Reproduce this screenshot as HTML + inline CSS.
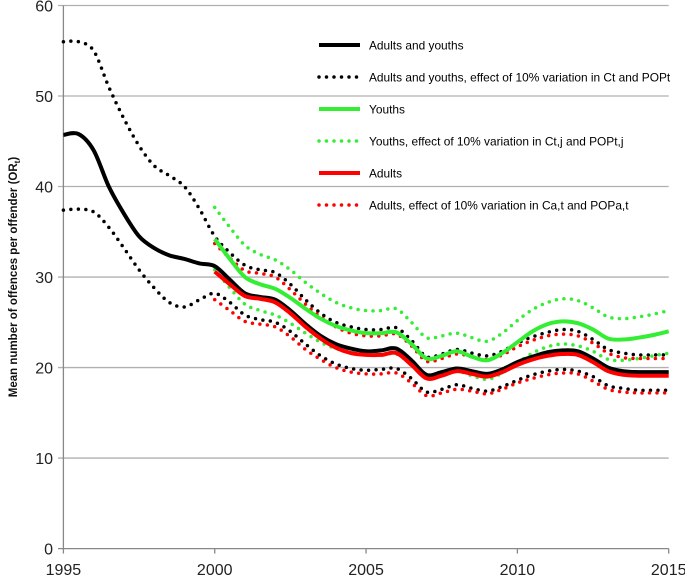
<!DOCTYPE html>
<html><head><meta charset="utf-8"><style>
html,body{margin:0;padding:0;background:#fff;}
svg{display:block;font-family:"Liberation Sans",sans-serif;}
</style></head><body>
<svg id="chart" width="685" height="577" viewBox="0 0 685 577"></svg>
<script>
const years = [1995,1995.5,1996,1996.5,1997,1997.5,1998,1998.5,1999,1999.5,2000,2000.5,2001,2001.5,2002,2002.5,2003,2003.5,2004,2004.5,2005,2005.5,2006,2006.5,2007,2007.5,2008,2008.5,2009,2009.5,2010,2010.5,2011,2011.5,2012,2012.5,2013,2013.5,2014,2014.5,2015];
const allSolid = [45.7,45.8,44,40,37,34.5,33.2,32.4,32,31.5,31.2,29.7,28.2,27.8,27.5,26.3,24.8,23.5,22.6,22.1,21.8,21.9,22.1,20.8,19.2,19.5,19.9,19.6,19.3,19.8,20.6,21.2,21.7,21.9,21.8,21.0,20.0,19.6,19.5,19.5,19.5];
const allUpper = [56,56,55,51,47.5,44.5,42.3,41.2,40,37.5,34.5,32.7,31.3,30.8,30.5,29.2,27.5,26,25,24.5,24.2,24.2,24.4,23,21.2,21.5,22,21.6,21.3,21.8,22.7,23.4,23.9,24.2,24,23.1,22,21.6,21.4,21.4,21.4];
const allLower = [37.4,37.5,37.2,35.5,33.2,30.8,28.8,27.2,26.7,27.5,28.2,27.2,25.8,25.3,25,24,22.6,21.3,20.4,19.9,19.7,19.8,19.9,18.8,17.3,17.6,18.1,17.7,17.4,17.9,18.6,19.2,19.6,19.8,19.6,19,18,17.7,17.5,17.5,17.5];
const youthSolid = [34.2,32,30,29.2,28.7,27.7,26.5,25.4,24.6,24.1,23.8,23.8,23.9,22.6,21,21.3,21.8,21.2,20.8,21.6,22.8,24,24.8,25.1,24.9,24.2,23.2,23.1,23.3,23.6,24];
const youthUpper = [37.7,35.5,33.5,32.5,31.9,30.8,29.4,28.2,27.2,26.6,26.3,26.3,26.5,25,23.3,23.5,23.8,23.3,22.9,23.8,25.2,26.4,27.2,27.6,27.4,26.6,25.6,25.4,25.6,25.9,26.3];
const youthLower = [30.8,28.8,27.0,26.3,25.8,24.9,23.8,22.8,22.1,21.7,21.4,21.4,21.5,20.3,18.9,19.2,19.6,19.1,18.7,19.4,20.5,21.6,22.3,22.6,22.4,21.8,20.9,20.8,21,21.3,21.6];
const adultSolid = [30.6,29.2,27.9,27.6,27.2,26.0,24.5,23.2,22.2,21.6,21.4,21.4,21.6,20.3,18.8,19.1,19.6,19.3,19.0,19.5,20.3,20.9,21.3,21.5,21.4,20.6,19.6,19.2,19.1,19.1,19.1];
const adultUpper = [33.7,32.1,30.7,30.4,30.0,28.6,27.0,25.6,24.5,23.8,23.5,23.5,23.7,22.4,20.7,21.0,21.5,21.2,20.9,21.4,22.3,23.0,23.5,23.7,23.5,22.7,21.6,21.1,21.0,21.0,21.0];
const adultLower = [27.5,26.3,25.1,24.8,24.5,23.4,22.0,20.9,20.0,19.5,19.3,19.3,19.4,18.3,16.9,17.2,17.6,17.4,17.1,17.6,18.3,18.8,19.2,19.4,19.3,18.5,17.6,17.3,17.2,17.2,17.2];
const yTicks = [0,10,20,30,40,50,60];
const xTicks = [1995,2000,2005,2010,2015];
const legendLabels = ["Adults and youths","Adults and youths, effect of 10% variation in Ct and POPt","Youths","Youths, effect of 10% variation in Ct,j and POPt,j","Adults","Adults, effect of 10% variation in Ca,t and POPa,t"];

const svg = document.getElementById('chart');
const NS = 'http://www.w3.org/2000/svg';
const X0=63.4, X1=668.7, Y0=548.6, Y1=5.5;
const xs = v => X0 + (v-1995)/20*(X1-X0);
const ys = v => Y0 - v/60*(Y0-Y1);
function mk(tag, attrs, parent){const e=document.createElementNS(NS,tag);for(const k in attrs)e.setAttribute(k,attrs[k]);(parent||svg).appendChild(e);return e;}

yTicks.forEach(t=>{
  const g = mk('line',{x1:58,x2:X1,y1:ys(t),y2:ys(t),stroke:t===0?'#888':'#b0b0b0','stroke-width':1.3});
  
  
  const tx = mk('text',{x:53,y:ys(t)+6,'text-anchor':'end','font-size':16,fill:'#222'});
  tx.textContent=t;
  
  
});
const ax = mk('line',{x1:X0,x2:X0,y1:Y1,y2:Y0,stroke:'#888','stroke-width':1.3});


xTicks.forEach(t=>{
  mk('line',{x1:xs(t),x2:xs(t),y1:Y0,y2:Y0+5,stroke:'#888','stroke-width':1.3});
  const tx = mk('text',{x:xs(t),y:575,'text-anchor':'middle','font-size':16,fill:'#222'});
  tx.textContent=t;
  
  
});
const yt = mk('text',{x:0,y:0,transform:'translate(17,277) rotate(-90)','text-anchor':'middle','font-size':11.5,'font-weight':'bold',fill:'#111'});
yt.innerHTML='Mean number of offences per offender (OR<tspan font-size="8" dy="3">t</tspan><tspan dy="-3">)</tspan>';



function pathFor(xv, yv){
  const p = xv.map((x,i)=>[xs(x),ys(yv[i])]);
  let d='M'+p[0][0]+','+p[0][1];
  for(let i=0;i<p.length-1;i++){
    const a=p[Math.max(0,i-1)],b=p[i],c=p[i+1],e=p[Math.min(p.length-1,i+2)];
    const c1=[b[0]+(c[0]-a[0])/6,b[1]+(c[1]-a[1])/6];
    const c2=[c[0]-(e[0]-b[0])/6,c[1]-(e[1]-b[1])/6];
    d+=` C${c1[0]},${c1[1]} ${c2[0]},${c2[1]} ${c[0]},${c[1]}`;
  }
  return d;
}
const yrs2000 = years.slice(10);
const series = [
  [years,allUpper,'#000',true,'adults-youths-upper'],
  [years,allLower,'#000',true,'adults-youths-lower'],
  [yrs2000,youthUpper,'#33ee33',true,'youths-upper'],
  [yrs2000,youthLower,'#33ee33',true,'youths-lower'],
  [yrs2000,adultUpper,'#ff0000',true,'adults-upper'],
  [yrs2000,adultLower,'#ff0000',true,'adults-lower'],
  [yrs2000,youthSolid,'#33ee33',false,'youths-line'],
  [years,allSolid,'#000',false,'adults-youths-line'],
  [yrs2000,adultSolid,'#ff0000',false,'adults-line'],
];
series.forEach(s=>{
  const attrs={d:pathFor(s[0],s[1]),fill:'none',stroke:s[2]};
  if(s[3]){attrs['stroke-width']=3.5;attrs['stroke-dasharray']='0 7.5';attrs['stroke-linecap']='round';}
  else attrs['stroke-width']=4;
  const e=mk('path',attrs);
  
  
});
const legColors=['#000','#000','#33ee33','#33ee33','#ff0000','#ff0000'];
legendLabels.forEach((l,i)=>{
  const y=45+i*32;
  const dotted=i%2===1;
  const la={x1:319,x2:360,y1:y,y2:y,stroke:legColors[i]};
  if(dotted){la['stroke-width']=3.5;la['stroke-dasharray']='0 7.5';la['stroke-linecap']='round';}else la['stroke-width']=4;
  const ln=mk('line',la);
  
  
  const t=mk('text',{x:369,y:y+4.5,'font-size':11.9,fill:'#000'});
  t.textContent=l;
  
  
});
</script>
</body></html>
